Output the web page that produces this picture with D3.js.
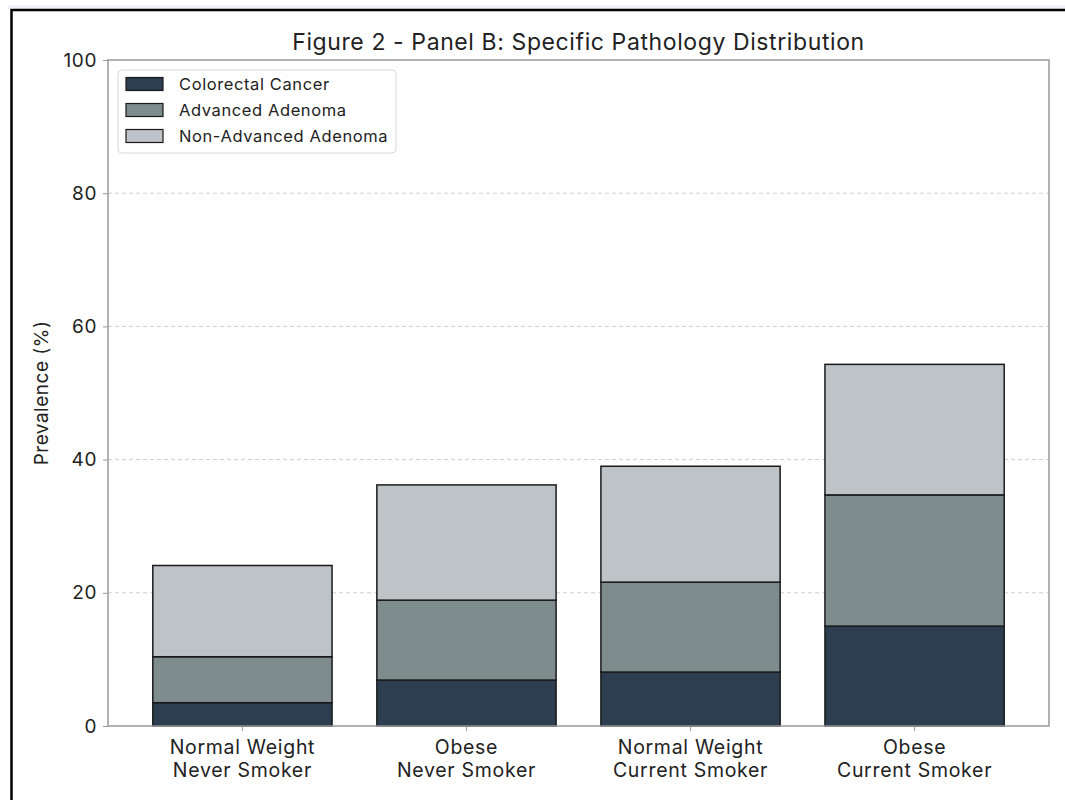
<!DOCTYPE html>
<html>
<head>
<meta charset="utf-8">
<script src="https://cdn.jsdelivr.net/npm/d3@7"></script>
<style>
  html, body { margin: 0; padding: 0; background: #ffffff; }
  svg { display: block; }
  text { font-family: Inter, "Open Sans", "DejaVu Sans", sans-serif; fill: #222; }
</style>
</head>
<body>
<svg id="chart" width="1065" height="800"></svg>
<script>
// Groups along the x axis (two-line labels)
const categories = [
  ["Normal Weight", "Never Smoker"],
  ["Obese", "Never Smoker"],
  ["Normal Weight", "Current Smoker"],
  ["Obese", "Current Smoker"]
];
// Stacked prevalence (%) for each pathology
const seriesNames = ["Colorectal Cancer", "Advanced Adenoma", "Non-Advanced Adenoma"];
const colorectalCancer = [3.5, 6.9, 8.1, 15.0];
const advancedAdenoma = [6.9, 12.0, 13.5, 19.7];
const nonAdvancedAdenoma = [13.7, 17.3, 17.4, 19.6];
const seriesColors = ["#2c3e50", "#7f8c8d", "#bdc3c7"];
const yTicks = [0, 20, 40, 60, 80, 100];
const titleText = "Figure 2 - Panel B: Specific Pathology Distribution";
const yLabel = "Prevalence (%)";

const svg = d3.select("#chart");
const W = 1065, H = 800;

// Frame around the figure
svg.append("rect").attr("x", 8).attr("y", 5).attr("width", W - 8).attr("height", 4).attr("fill", "#eef1fa");
svg.append("path")
  .attr("d", `M11.5,${H} L11.5,10 L${W},10`)
  .attr("fill", "none").attr("stroke", "#000").attr("stroke-width", 2.5);

const plot = { left: 108, right: 1049, top: 60, bottom: 726 };

const rows = categories.map((c, i) => ({
  key: i,
  "Colorectal Cancer": colorectalCancer[i],
  "Advanced Adenoma": advancedAdenoma[i],
  "Non-Advanced Adenoma": nonAdvancedAdenoma[i]
}));
const stacked = d3.stack().keys(seriesNames)(rows);

const x = d3.scaleBand()
  .domain(categories.map((c, i) => i))
  .range([plot.left, plot.right])
  .paddingInner(0.2)
  .paddingOuter(0.2);
const y = d3.scaleLinear().domain([0, 100]).range([plot.bottom, plot.top]);

// Dashed horizontal grid
svg.append("g").selectAll("line")
  .data(yTicks.filter(t => t > 0 && t < 100))
  .join("line")
  .attr("x1", plot.left).attr("x2", plot.right)
  .attr("y1", d => y(d)).attr("y2", d => y(d))
  .attr("stroke", "#cfcfcf").attr("stroke-width", 1)
  .attr("stroke-dasharray", "4,3");

// Stacked bars
const layers = svg.append("g").selectAll("g")
  .data(stacked)
  .join("g")
  .attr("fill", (d, i) => seriesColors[i]);
layers.selectAll("rect")
  .data(d => d)
  .join("rect")
  .attr("x", d => x(d.data.key))
  .attr("width", x.bandwidth())
  .attr("y", d => y(d[1]))
  .attr("height", d => y(d[0]) - y(d[1]))
  .attr("stroke", "#1a1a1a")
  .attr("stroke-width", 1.5);

// Axes
const yAxis = d3.axisLeft(y).tickValues(yTicks).tickSize(5).tickPadding(6);
const gy = svg.append("g").attr("transform", `translate(${plot.left},0)`).call(yAxis);
gy.select(".domain").remove();
gy.selectAll("line").attr("stroke", "#999");
gy.selectAll("text").style("font-size", "19px").style("letter-spacing", "0.6px").attr("fill", "#222");

const xAxis = d3.axisBottom(x).tickSize(5).tickFormat("");
const gx = svg.append("g").attr("transform", `translate(0,${plot.bottom})`).call(xAxis);
gx.select(".domain").remove();
gx.selectAll("line").attr("stroke", "#999");
gx.selectAll(".tick").each(function (d) {
  const t = d3.select(this).append("text")
    .attr("text-anchor", "middle")
    .style("font-size", "19.5px")
    .style("letter-spacing", "0.7px")
    .attr("fill", "#222");
  categories[d].forEach((line, j) => {
    t.append("tspan").attr("x", 0).attr("y", 28 + j * 23).text(line);
  });
});

// Plot frame
svg.append("rect")
  .attr("x", plot.left).attr("y", plot.top)
  .attr("width", plot.right - plot.left).attr("height", plot.bottom - plot.top)
  .attr("fill", "none").attr("stroke", "#999").attr("stroke-width", 1.5);

// Title and axis label
svg.append("text")
  .attr("x", (plot.left + plot.right) / 2).attr("y", 50)
  .attr("text-anchor", "middle")
  .style("font-size", "23px")
  .style("letter-spacing", "0.6px")
  .text(titleText);
svg.append("text")
  .attr("transform", `translate(48,${(plot.top + plot.bottom) / 2}) rotate(-90)`)
  .attr("text-anchor", "middle")
  .style("font-size", "19px")
  .style("letter-spacing", "0.5px")
  .text(yLabel);

// Legend
const lg = svg.append("g").attr("transform", "translate(118,70)");
lg.append("rect")
  .attr("width", 278).attr("height", 83).attr("rx", 4)
  .attr("fill", "#fff").attr("fill-opacity", 0.9)
  .attr("stroke", "#d6d6d6");
seriesNames.forEach((name, i) => {
  const row = lg.append("g").attr("transform", `translate(8,${14 + i * 26})`);
  row.append("rect").attr("width", 37).attr("height", 13).attr("y", -6.5)
    .attr("fill", seriesColors[i]).attr("stroke", "#1a1a1a").attr("stroke-width", 1.2);
  row.append("text").attr("x", 53).attr("y", 0).attr("dy", "0.35em")
    .style("font-size", "16.5px").style("letter-spacing", "0.6px").text(name);
});
</script>
</body>
</html>
